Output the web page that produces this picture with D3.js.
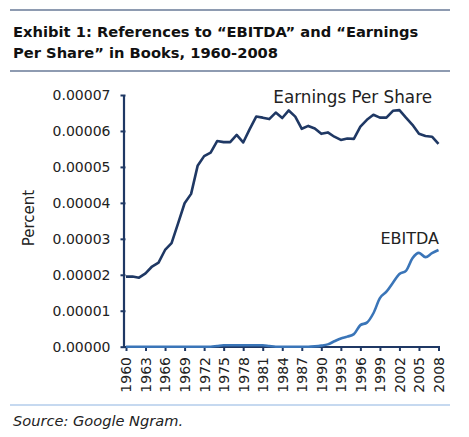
<!DOCTYPE html>
<html><head><meta charset="utf-8">
<script src="https://cdn.jsdelivr.net/npm/d3@7"></script>
<style>body{margin:0;background:#fff}</style>
</head><body>
<script>
const years = d3.range(1960, 2009);
const epsValues = [1.95,1.95,1.92,2.04,2.23,2.34,2.69,2.88,3.43,3.99,4.25,5.03,5.30,5.40,5.72,5.69,5.69,5.89,5.68,6.05,
  6.40,6.37,6.33,6.51,6.36,6.57,6.40,6.06,6.14,6.07,5.92,5.96,5.84,5.75,5.79,5.78,6.12,6.31,6.45,6.37,
  6.37,6.56,6.58,6.37,6.17,5.92,5.86,5.84,5.64].map(v => v * 1e-5);
const ebitdaValues = [0,0,0,0,0,0,0,0,0,0,0,0,0,0,0.02,0.04,0.04,0.04,0.04,0.04,
  0.04,0.04,0.02,0,0,0,0,0,0,0.01,0.03,0.065,0.15,0.23,0.28,0.35,0.60,0.67,0.93,1.35,
  1.53,1.78,2.02,2.11,2.46,2.61,2.49,2.60,2.69].map(v => v * 1e-5);
const yTicks = [0,0.00001,0.00002,0.00003,0.00004,0.00005,0.00006,0.00007];
const xTicks = d3.range(1960, 2009, 3);
const titleLines = ["Exhibit 1: References to \u201CEBITDA\u201D and \u201CEarnings", "Per Share\u201D in Books, 1960-2008"];

const W = 469, H = 437;
const font = "'DejaVu Sans', sans-serif";
const navy = "#1f3864", blue = "#3a75b8", txt = "#222";
const svg = d3.select("body").append("svg").attr("width", W).attr("height", H);

// title rules
svg.append("line").attr("x1",10).attr("x2",450).attr("y1",10).attr("y2",10).attr("stroke",navy).attr("stroke-width",1.2);
svg.append("line").attr("x1",10).attr("x2",450).attr("y1",71).attr("y2",71).attr("stroke",navy).attr("stroke-width",1.2);
titleLines.forEach((t,i) => svg.append("text").attr("x",13).attr("y",37 + i*21).text(t)
  .attr("font-family",font).attr("font-weight","bold").attr("font-size",14.7).attr("fill","#111"));

const x = d3.scaleLinear().domain([1960, 2008]).range([126, 438.5]);
const y = d3.scaleLinear().domain([0, 0.00007]).range([346.7, 95]);

// y axis
const ya = svg.append("g").attr("transform","translate(123.5,0)")
  .call(d3.axisLeft(y).tickValues(yTicks).tickFormat(d3.format(".5f")).tickSizeInner(3).tickSizeOuter(0).tickPadding(10));
ya.select(".domain").attr("stroke",navy).attr("stroke-width",2.2);
ya.selectAll(".tick line").attr("stroke",navy).attr("stroke-width",2).attr("x2",-3).attr("x1",2);
ya.selectAll("text").attr("font-family",font).attr("font-size",14).attr("fill",txt);

// x axis
const xa = svg.append("g").attr("transform","translate(0,347)")
  .call(d3.axisBottom(x).tickValues(xTicks).tickFormat(d3.format("d")).tickSizeInner(4).tickSizeOuter(0));
xa.select(".domain").attr("stroke",navy).attr("stroke-width",2.2).attr("d", `M${x(1960)-2.5},0H${x(2008)+1}`);
xa.selectAll(".tick line").attr("stroke",navy).attr("stroke-width",2).attr("y1",-1).attr("y2",4);
xa.selectAll("text").attr("font-family",font).attr("font-size",14).attr("fill",txt)
  .attr("transform","rotate(-90)").attr("text-anchor","end").attr("dy","0.35em").attr("x",-10).attr("y",0);

// y label
svg.append("text").attr("transform","translate(34,218) rotate(-90)").attr("text-anchor","middle")
  .text("Percent").attr("font-family",font).attr("font-size",15).attr("fill",txt);

// lines
const epsLine = d3.line().x((d,i)=>x(years[i])).y(d=>y(d));
const ebLine = d3.line().x((d,i)=>x(years[i])).y(d=>y(d)).curve(d3.curveMonotoneX);
svg.append("path").datum(ebitdaValues).attr("d", ebLine).attr("fill","none").attr("stroke",blue)
  .attr("stroke-width",2.6).attr("stroke-linejoin","round");
svg.append("path").datum(epsValues).attr("d", epsLine).attr("fill","none").attr("stroke",navy)
  .attr("stroke-width",2.6).attr("stroke-linejoin","round");

// annotations
svg.append("text").attr("x",432).attr("y",103).attr("text-anchor","end").text("Earnings Per Share")
  .attr("font-family",font).attr("font-size",16.8).attr("fill",txt);
svg.append("text").attr("x",439).attr("y",244).attr("text-anchor","end").text("EBITDA")
  .attr("font-family",font).attr("font-size",16).attr("fill",txt);

// source
svg.append("line").attr("x1",10).attr("x2",450).attr("y1",405).attr("y2",405).attr("stroke","#8db3e2").attr("stroke-width",1.2);
svg.append("text").attr("x",13).attr("y",426).text("Source: Google Ngram.")
  .attr("font-family",font).attr("font-style","italic").attr("font-size",14.6).attr("fill",txt);
</script>
</body></html>
